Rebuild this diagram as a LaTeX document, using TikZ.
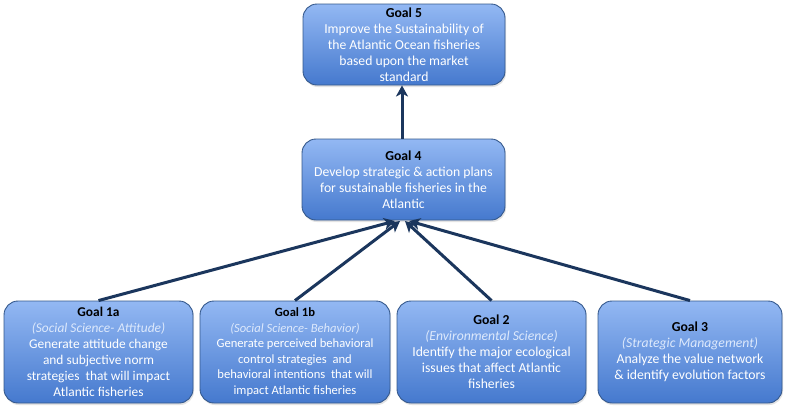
\documentclass[tikz,border=0pt]{standalone}
\usepackage{fontspec}
\setmainfont{Carlito}
\usetikzlibrary{arrows.meta,shadows}
\definecolor{boxtop}{HTML}{93B8F3}
\definecolor{boxbot}{HTML}{4579CE}
\definecolor{boxline}{HTML}{34588C}
\definecolor{arrowcol}{HTML}{1B365D}
\definecolor{subcol}{HTML}{DDE9FC}
\tikzset{
  goalbox/.style={draw=boxline, line width=0.9pt, rounded corners=14pt,
    top color=boxtop, bottom color=boxbot, text=white, align=center,
    inner sep=0pt, font=\fontsize{13.7}{16}\selectfont,
    drop shadow={opacity=0.22, shadow xshift=1pt, shadow yshift=-2pt}},
  link/.style={draw=arrowcol, line width=3pt,
    -{Stealth[length=11pt,width=12pt,inset=3pt]}},
}
\newcommand{\gtitle}[1]{\textcolor{black}{\textbf{#1}}}
\newcommand{\gsub}[1]{\textcolor{subcol}{\textit{#1}}}
\begin{document}
\begin{tikzpicture}[x=1pt,y=-1pt]
\useasboundingbox[fill=white] (0,0) rectangle (786,410);
\node[goalbox, minimum width=202pt, minimum height=81pt] (g5) at (404,44.5)
  {\gtitle{Goal 5}\\Improve the Sustainability of\\the Atlantic Ocean fisheries\\based upon the market\\standard};
\node[goalbox, minimum width=203pt, minimum height=81pt] (g4) at (403.5,179.5)
  {\gtitle{Goal 4}\\Develop strategic \& action plans\\for sustainable fisheries in the\\Atlantic};
\node[goalbox, minimum width=189pt, minimum height=102pt, font=\fontsize{13.4}{16.1}\selectfont] (g1a) at (98.5,352)
  {\gtitle{Goal 1a}\\\gsub{(Social Science- Attitude)}\\Generate attitude change\\and subjective norm\\strategies\ \ that will impact\\Atlantic fisheries};
\node[goalbox, minimum width=190pt, minimum height=102pt, font=\fontsize{12.6}{15.5}\selectfont] (g1b) at (295,352)
  {\gtitle{Goal 1b}\\\gsub{(Social Science- Behavior)}\\Generate perceived behavioral\\control strategies\ \ and\\behavioral intentions\ \ that will\\impact Atlantic fisheries};
\node[goalbox, minimum width=189pt, minimum height=102pt] (g2) at (491.5,352)
  {\gtitle{Goal 2}\\\gsub{(Environmental Science)}\\Identify the major ecological\\issues that affect Atlantic\\fisheries};
\node[goalbox, minimum width=184pt, minimum height=102pt] (g3) at (690,352)
  {\gtitle{Goal 3}\\\gsub{(Strategic Management)}\\Analyze the value network\\\& identify evolution factors};
\coordinate (t1a) at (395,221);
\coordinate (t1b) at (400,221);
\coordinate (t2) at (405,221);
\coordinate (t3) at (409,221);
\draw[link] (g1a.north) -- (t1a);
\draw[link] (g1b.north) -- (t1b);
\draw[link] (g2.north) -- (t2);
\draw[link] (g3.north) -- (t3);
\draw[link] (g4.north -| 402,0) -- (g5.south -| 402,0);
\end{tikzpicture}
\end{document}
